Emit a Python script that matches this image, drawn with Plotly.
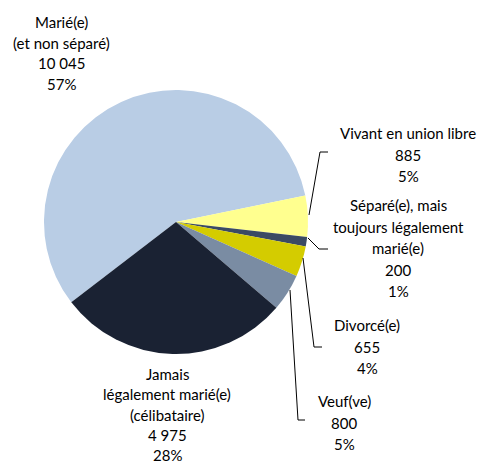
import plotly.graph_objects as go

labels = [["Marié(e)", "(et non séparé)"], ["Vivant en union libre"],
          ["Séparé(e), mais", "toujours légalement", "marié(e)"], ["Divorcé(e)"],
          ["Veuf(ve)"], ["Jamais", "légalement marié(e)", "(célibataire)"]]
values = [10045, 885, 200, 655, 800, 4975]
value_text = ["10 045", "885", "200", "655", "800", "4 975"]
colors = ["#B9CDE5", "#FFFF8F", "#3B4A63", "#D4CC00", "#7A8CA3", "#1A2233"]

W, H = 482, 466
cx, cy, r = 176, 222, 132

fig = go.Figure(go.Pie(
    labels=[" ".join(l) for l in labels], values=values, sort=False, direction="clockwise",
    rotation=232.5, marker=dict(colors=colors, line=dict(width=0)),
    textinfo="none", hoverinfo="label+value+percent", showlegend=False,
    domain=dict(x=[(cx - r) / W, (cx + r) / W], y=[(H - cy - r) / H, (H - cy + r) / H]),
))

total = sum(values)
# label positions (pixel centers of first line) and line spacing
label_pos = [(61, 22, 20.5), (408, 133, 21.5), (398, 205, 21.5), (367, 325, 21.5),
             (344, 401, 21.5), (167, 374, 20.3)]
font = dict(family="Lato, Open Sans, sans-serif", size=15, color="#000000")
for lab, vt, v, (x, y, sp) in zip(labels, value_text, values, label_pos):
    pct = f"{round(100 * v / total)}%"
    lines = lab + [vt, pct]
    for i, t in enumerate(lines):
        fig.add_annotation(x=x / W, y=1 - (y + i * sp) / H, xref="paper", yref="paper",
                           text=t, showarrow=False, xanchor="center", yanchor="middle",
                           font=font, align="center")

# leader lines (pixel coords)
leaders = [
    [(309, 215), (320, 152), (328, 152)],
    [(308, 238), (319, 249), (328, 249)],
    [(303, 258), (314, 347), (322, 347)],
    [(290, 290), (298, 420), (305, 420)],
]
for pts in leaders:
    path = "M " + " L ".join(f"{px / W},{1 - py / H}" for px, py in pts)
    fig.add_shape(type="path", path=path, xref="paper", yref="paper",
                  line=dict(color="#000000", width=1))

fig.update_layout(width=W, height=H, margin=dict(l=0, r=0, t=0, b=0),
                  paper_bgcolor="white", plot_bgcolor="white")
fig.write_html("out.html", config={"displayModeBar": False},
               post_script="document.body.style.margin='0';document.body.style.overflow='hidden';")
